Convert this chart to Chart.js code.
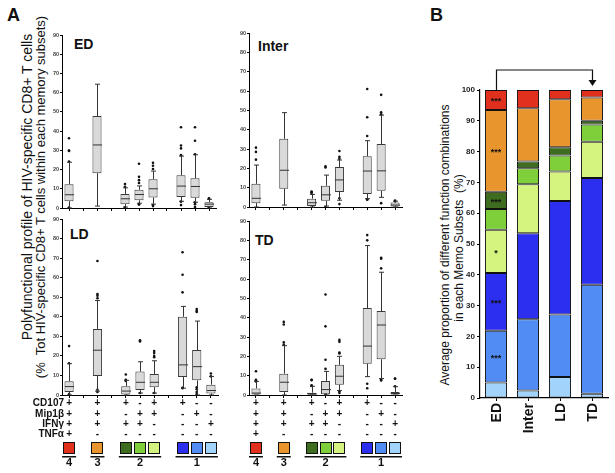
<!DOCTYPE html>
<html>
<head>
<meta charset="utf-8">
<script src="https://cdn.jsdelivr.net/npm/chart.js@4.4.1/dist/chart.umd.min.js"></script>
<style>
  body { margin: 0; background: #fff; width: 615px; height: 473px; position: relative; overflow: hidden;
         font-family: Arial, "Liberation Sans", sans-serif; color: #111; }
  canvas { position: absolute; }
  .txt { position: absolute; line-height: 1; white-space: nowrap; font-weight: bold; }
  .rot { position: absolute; line-height: 1; white-space: nowrap; transform: translate(-50%, -50%) rotate(-90deg); }
</style>
</head>
<body>
<div class="txt" style="left:7px;top:6px;font-size:18px">A</div>
<div class="txt" style="left:430px;top:6px;font-size:18px">B</div>
<div class="txt" style="left:74px;top:37px;font-size:14px">ED</div>
<div class="txt" style="left:258px;top:39px;font-size:14px">Inter</div>
<div class="txt" style="left:70px;top:227px;font-size:14px">LD</div>
<div class="txt" style="left:255px;top:233px;font-size:14px">TD</div>
<div class="rot" style="left:27px;top:187px;font-size:14px">Polyfunctional profile of HIV-specific CD8+ T cells</div>
<div class="rot" style="left:40px;top:197px;font-size:13px">(%&nbsp; Tot HIV-specific CD8+ T cells within each memory subsets)</div>
<div class="rot" style="left:445px;top:245px;font-size:12px">Average proportion of different function combinations</div>
<div class="rot" style="left:459px;top:248px;font-size:12px">in each Memo Subsets&nbsp; (%)</div>

<canvas id="chartED" width="181" height="190" style="left:40px;top:25px"></canvas>
<canvas id="chartInter" width="181" height="190" style="left:225px;top:25px"></canvas>
<canvas id="chartLD" width="225" height="263" style="left:0px;top:210px"></canvas>
<canvas id="chartTD" width="181" height="263" style="left:225px;top:210px"></canvas>
<canvas id="chartMemo" width="175" height="413" style="left:440px;top:60px"></canvas>

<script>
// function combinations along the x axis (gaps keep the groups apart)
const combos = ['CD107+Mip1β+IFNγ+TNFα+', 'gap1', 'CD107+Mip1β+IFNγ+', 'gap2', 'CD107+IFNγ+', 'Mip1β+IFNγ+', 'CD107+Mip1β+', 'gap3', 'CD107+', 'Mip1β+', 'IFNγ+'];
const markerNames = ['CD107', 'Mip1β', 'IFNγ', 'TNFα'];
const signCD107 = ['+', '', '+', '', '+', '-', '+', '', '+', '-', '-'];
const signMip = ['+', '', '+', '', '-', '+', '+', '', '-', '+', '-'];
const signIFNg = ['+', '', '+', '', '+', '+', '-', '', '-', '-', '+'];
const signTNFa = ['+', '', '-', '', '-', '-', '-', '', '-', '-', '-'];
const comboColors = ['#e2301f', null, '#e8952e', null, '#3e6d1f', '#7fcf3b', '#d5f47f', null, '#2c2ef0', '#508cf4', '#a2d3fa'];
const groupLabels = ['4', '3', '2', '1'];
const groupFirst = [0, 2, 4, 8];
const groupLast = [0, 2, 6, 10];

// box stats: [min, q1, median, q3, max]
const edBoxes = [[0, 3.5, 6.9, 12.4, 23.8], null, [1, 18.1, 32.8, 47.8, 64.4], null, [0.5, 2, 4.8, 7.3, 10.5], [2.5, 4, 7, 9.5, 11.5], [2, 5.5, 10, 15, 19.2], null, [3.5, 5.7, 11.4, 17, 27], [3, 5.3, 11.2, 15.5, 27.7], [0, 0.5, 2, 3, 4.5]];
const edOutliers = [[36.3, 29.9, 29.7, 24.2, 0, 0.2], [], [], [], [12.5, 11, 0, 0.3], [23, 16.2, 14.5, 13, 2, 1.8], [23.5, 22, 20.3, 1.5, 1], [], [42, 32.5, 31, 27.5, 3.3, 1.5], [42, 35, 28, 3, 2, 0.5], [5, 4.8, 0.2]];
const interBoxes = [[0, 2, 4.5, 12, 21.7], null, [1, 9.5, 19, 35.3, 48.8], null, [0, 0.5, 2.2, 4.3, 6.5], [0.5, 3.2, 6.3, 11, 16.5], [3.5, 7.8, 14, 20.7, 24.3], null, [4.3, 6.7, 18.6, 26.3, 34.3], [5, 8.4, 18.7, 32.6, 47.5], [0, 0.3, 1, 2.3, 3]];
const interOutliers = [[30.7, 28.5, 24.5], [], [], [], [8, 7.6, 7.2], [21, 20.4, 0], [29, 26, 25, 4.5, 1.5], [], [61, 46.4, 36.7, 4, 3.8], [58, 49, 48, 2], [3.3, 3]];
const ldBoxes = [[0, 1.5, 4.3, 7, 16], null, [2, 9.7, 22.9, 33.8, 48.3], null, [0, 0.3, 2, 4.5, 7.5], [1, 2.5, 6.5, 12, 17], [1, 4, 6.5, 10.7, 17.5], null, [3.5, 9.2, 15.4, 40, 45.3], [0, 7.5, 14.5, 23, 37.8], [0, 0.8, 2.3, 5.3, 9.5]];
const ldOutliers = [[25, 16.2, 0.5, 0.2], [], [68.5, 51.6, 50.8, 49.5, 2.7, 1.5], [], [10.5, 7.8, 7.2], [28, 27.4, 1], [22.5, 21.5, 20, 19.3, 1], [], [73, 61.5, 52.5, 3.7, 3.5], [44, 43, 42.5, 4, 3, 1.5, 0.5], [11, 9.5]];
const tdBoxes = [[0, 0, 1, 3.4, 7], null, [0, 1.5, 6.6, 11, 25.5], null, [0, 0, 0.5, 1.2, 4.5], [0, 0.4, 2.8, 7.3, 12.2], [2.3, 5.3, 9.7, 15.6, 20], null, [9.5, 16.2, 25.3, 45, 77.3], [8.5, 18.5, 36.2, 43.4, 63.5], [0, 0, 0.8, 1.5, 4.3]];
const tdOutliers = [[12.3, 7.8, 7.5, 7], [], [37.8, 36.5, 27.2, 26], [], [7.8, 7.7, 5, 4.7], [52, 35.5, 18.2, 13.5, 0.5], [28.5, 27.5, 22, 21.5, 2, 1], [], [82.7, 80, 5.8, 3.5], [71, 70.5, 65.5, 7.5, 8], [8.5, 8.4, 4.5]];

// panel B: average share of each combination per memory subset
const subsets = ['ED', 'Inter', 'LD', 'TD'];
const shareIFNg = [5.0, 2.4, 6.8, 1.4];
const shareMip = [16.8, 23.2, 20.3, 35.4];
const shareCD107 = [18.8, 27.9, 36.9, 34.6];
const shareCD107Mip = [14.0, 15.9, 9.5, 11.8];
const shareMipIFNg = [6.8, 5.2, 5.2, 5.6];
const shareCD107IFNg = [5.6, 2.2, 2.7, 1.2];
const shareTriple = [26.5, 17.3, 15.6, 7.6];
const shareQuad = [6.5, 5.9, 3.0, 2.4];
const edStars = ['', '***', '***', '*', '', '***', '***', '***'];

// whiskers + median drawn on top of the floating bars
function whiskerPlugin(boxes) {
  return {
    id: 'whiskers',
    afterDatasetsDraw(chart) {
      const { ctx, scales: { x, y } } = chart;
      const meta = chart.getDatasetMeta(0);
      ctx.save();
      ctx.strokeStyle = '#333';
      ctx.lineWidth = 1;
      boxes.forEach((b, i) => {
        if (!b) return;
        const cx = Math.round(x.getPixelForValue(i)) + 0.5;
        const half = meta.data[i].width / 2;
        const p = b.map(v => y.getPixelForValue(v));
        ctx.beginPath();
        ctx.moveTo(cx, p[1]); ctx.lineTo(cx, p[0]);
        ctx.moveTo(cx, p[3]); ctx.lineTo(cx, p[4]);
        ctx.moveTo(cx - 2.5, p[0]); ctx.lineTo(cx + 2.5, p[0]);
        ctx.moveTo(cx - 2.5, p[4]); ctx.lineTo(cx + 2.5, p[4]);
        ctx.moveTo(cx - half, p[2]); ctx.lineTo(cx + half, p[2]);
        ctx.stroke();
      });
      ctx.restore();
    }
  };
}

// +/- table, coloured keys and group numbers under the bottom panels
function comboKeyPlugin(showNames) {
  return {
    id: 'comboKey',
    afterDraw(chart) {
      const { ctx, chartArea: { left, bottom }, scales: { x } } = chart;
      const rows = [signCD107, signMip, signIFNg, signTNFa];
      const rowY = [8, 19, 29, 39];
      ctx.save();
      ctx.fillStyle = '#111';
      ctx.textBaseline = 'middle';
      if (showNames) {
        ctx.font = 'bold 10px Arial';
        ctx.textAlign = 'right';
        markerNames.forEach((n, r) => ctx.fillText(n, left + 2, bottom + rowY[r]));
      }
      ctx.font = 'bold 10px Arial';
      ctx.textAlign = 'center';
      rows.forEach((row, r) => {
        row.forEach((s, i) => { if (s) ctx.fillText(s, x.getPixelForValue(i), bottom + rowY[r]); });
      });
      comboColors.forEach((c, i) => {
        if (!c) return;
        const cx = Math.round(x.getPixelForValue(i));
        ctx.fillStyle = c;
        ctx.fillRect(cx - 6, bottom + 47, 12, 12);
        ctx.strokeStyle = '#111';
        ctx.lineWidth = 1;
        ctx.strokeRect(cx - 5.5, bottom + 47.5, 11, 11);
      });
      ctx.fillStyle = '#111';
      ctx.font = 'bold 11px Arial';
      groupLabels.forEach((g, k) => {
        const x0 = x.getPixelForValue(groupFirst[k]) - 7;
        const x1 = x.getPixelForValue(groupLast[k]) + 7;
        ctx.fillRect(x0, bottom + 61, x1 - x0, 1.5);
        ctx.fillText(g, (x0 + x1) / 2, bottom + 68);
      });
      ctx.restore();
    }
  };
}

function boxChart(id, boxes, outliers, geo, withKey, showNames) {
  const points = [];
  outliers.forEach((list, i) => list.forEach(v => points.push({ x: combos[i], y: v })));
  const plugins = [whiskerPlugin(boxes)];
  if (withKey) plugins.push(comboKeyPlugin(showNames));
  return new Chart(document.getElementById(id), {
    type: 'bar',
    data: {
      labels: combos,
      datasets: [{
        data: boxes.map(b => b ? [b[1], b[3]] : null),
        backgroundColor: '#d9d9d9',
        borderColor: '#3a3a3a',
        borderWidth: 1,
        borderSkipped: false,
        barPercentage: 0.65,
        categoryPercentage: 1
      }, {
        type: 'line',
        data: points,
        showLine: false,
        pointRadius: 1.3,
        pointBackgroundColor: '#111',
        pointBorderWidth: 0
      }]
    },
    options: {
      responsive: false,
      animation: false,
      layout: { padding: { left: 0, top: geo.top, right: geo.right, bottom: 0 } },
      plugins: { legend: { display: false }, tooltip: { enabled: false } },
      scales: {
        x: {
          afterFit: s => { s.height = geo.xh; },
          grid: { drawOnChartArea: false, offset: false, tickLength: 3, color: '#000' },
          border: { color: '#000', width: 1 },
          ticks: { display: false }
        },
        y: {
          min: 0, max: 90,
          afterFit: s => { s.width = geo.yw; },
          grid: { drawOnChartArea: false, tickLength: 2, color: '#000' },
          border: { color: '#000', width: 1 },
          ticks: { stepSize: 10, padding: 1, color: '#444', font: { size: 5.5, weight: 'bold', family: 'Arial' } }
        }
      }
    },
    plugins: plugins
  });
}

boxChart('chartED', edBoxes, edOutliers, { top: 10, right: 5, xh: 7, yw: 22 }, false, false);
boxChart('chartInter', interBoxes, interOutliers, { top: 8, right: 3, xh: 8, yw: 24 }, false, false);
boxChart('chartLD', ldBoxes, ldOutliers, { top: 9, right: 7, xh: 78, yw: 62 }, true, true);
boxChart('chartTD', tdBoxes, tdOutliers, { top: 11, right: 4, xh: 78, yw: 24 }, true, false);

// stars inside the ED bar, labels and comparison bracket for panel B
const memoExtras = {
  id: 'memoExtras',
  afterDraw(chart) {
    const { ctx, chartArea: { bottom }, scales: { x, y } } = chart;
    ctx.save();
    ctx.fillStyle = '#111';
    ctx.font = 'bold 9px Arial';
    ctx.textAlign = 'center';
    ctx.textBaseline = 'middle';
    let base = 0;
    chart.data.datasets.forEach((ds, k) => {
      const v = ds.data[0];
      if (edStars[k]) ctx.fillText(edStars[k], x.getPixelForValue(0), y.getPixelForValue(base + v / 2) + 2);
      base += v;
    });
    ctx.font = 'bold 14px Arial';
    ctx.textAlign = 'right';
    subsets.forEach((s, i) => {
      ctx.save();
      ctx.translate(x.getPixelForValue(i) + 1, bottom + 5);
      ctx.rotate(-Math.PI / 2);
      ctx.fillText(s, 0, 0);
      ctx.restore();
    });
    const xa = Math.round(x.getPixelForValue(0)) + 0.5;
    const xb = Math.round(x.getPixelForValue(3)) + 0.5;
    const top = y.getPixelForValue(100);
    const yl = top - 20;
    ctx.strokeStyle = '#111';
    ctx.lineWidth = 1.2;
    ctx.beginPath();
    ctx.moveTo(xa, top); ctx.lineTo(xa, yl); ctx.lineTo(xb, yl); ctx.lineTo(xb, top - 9);
    ctx.stroke();
    ctx.beginPath();
    ctx.moveTo(xb - 4, top - 10); ctx.lineTo(xb + 4, top - 10); ctx.lineTo(xb, top - 4);
    ctx.closePath();
    ctx.fill();
    ctx.restore();
  }
};

const stackParts = [
  { data: shareIFNg, color: '#a2d3fa' },
  { data: shareMip, color: '#508cf4' },
  { data: shareCD107, color: '#2c2ef0' },
  { data: shareCD107Mip, color: '#d5f47f' },
  { data: shareMipIFNg, color: '#7fcf3b' },
  { data: shareCD107IFNg, color: '#3e6d1f' },
  { data: shareTriple, color: '#e8952e' },
  { data: shareQuad, color: '#e2301f' }
];

new Chart(document.getElementById('chartMemo'), {
  type: 'bar',
  data: {
    labels: subsets,
    datasets: stackParts.map(p => ({
      data: p.data,
      backgroundColor: p.color,
      borderColor: '#111',
      borderWidth: 1,
      borderSkipped: false,
      barPercentage: 0.69,
      categoryPercentage: 1
    }))
  },
  options: {
    responsive: false,
    animation: false,
    layout: { padding: { left: 0, top: 30, right: 7, bottom: 0 } },
    plugins: { legend: { display: false }, tooltip: { enabled: false } },
    scales: {
      x: {
        stacked: true,
        afterFit: s => { s.height = 75; },
        grid: { drawOnChartArea: false, offset: false, tickLength: 3, color: '#000' },
        border: { color: '#000', width: 1.2 },
        ticks: { display: false }
      },
      y: {
        stacked: true,
        min: 0, max: 100,
        afterFit: s => { s.width = 40; },
        grid: { drawOnChartArea: false, tickLength: 3, color: '#000' },
        border: { color: '#000', width: 1.2 },
        ticks: { stepSize: 10, padding: 2, color: '#222', font: { size: 8, weight: 'bold', family: 'Arial' } }
      }
    }
  },
  plugins: [memoExtras]
});
</script>
</body>
</html>
